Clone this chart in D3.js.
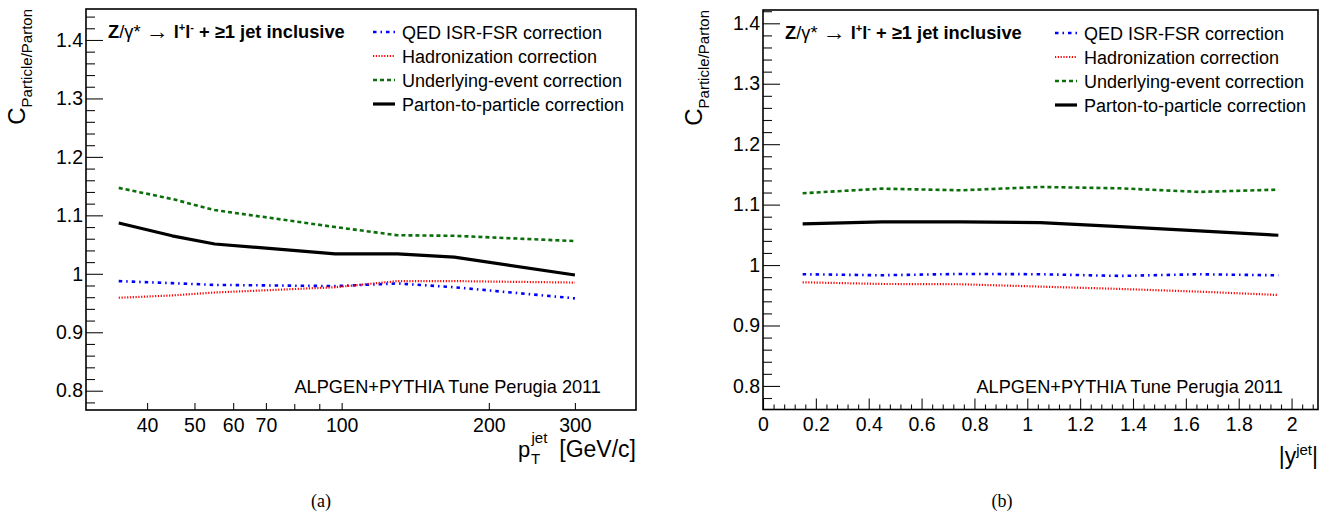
<!DOCTYPE html>
<html><head><meta charset="utf-8">
<script src="https://cdn.jsdelivr.net/npm/d3@7"></script>
<style>
body{margin:0;background:#fff}
svg{display:block}
text{font-family:"Liberation Sans",Arial,Helvetica,sans-serif;fill:#000}
</style>
</head><body>
<svg id="c" width="1322" height="514"></svg>
<script>
// ---------- data ----------
const seriesNames = ["QED ISR-FSR correction", "Hadronization correction", "Underlying-event correction", "Parton-to-particle correction"];

// panel (a): vs jet pT
const ptBins = [35, 45, 55, 97, 130, 170, 300];
const ptQED  = [0.9875, 0.984, 0.981, 0.979, 0.9835, 0.977, 0.958];
const ptHad  = [0.959, 0.963, 0.968, 0.977, 0.9875, 0.9875, 0.985];
const ptUE   = [1.147, 1.128, 1.109, 1.080, 1.066, 1.065, 1.056];
const ptTot  = [1.087, 1.065, 1.051, 1.034, 1.034, 1.0285, 0.998];
const ptTickLabels = [40, 50, 60, 70, 100, 200, 300];
const ptMinorTicks = [80, 90];

// panel (b): vs |y jet|
const yBins = [0.15, 0.45, 0.75, 1.05, 1.35, 1.65, 1.95];
const yQED  = [0.9848, 0.9831, 0.9853, 0.9848, 0.982, 0.9848, 0.983];
const yHad  = [0.9715, 0.9687, 0.9682, 0.9643, 0.9605, 0.956, 0.9505];
const yUE   = [1.1188, 1.1264, 1.1237, 1.1292, 1.127, 1.121, 1.1248];
const yTot  = [1.068, 1.0713, 1.0713, 1.0702, 1.0636, 1.0564, 1.0493];
const rapTickLabels = [0, 0.2, 0.4, 0.6, 0.8, 1, 1.2, 1.4, 1.6, 1.8, 2];

const cTickLabels = [0.8, 0.9, 1, 1.1, 1.2, 1.3, 1.4];

// ---------- styles ----------
const styles = [
  {color:"#0000ff", width:2.6, dash:"3.5,4,1.5,4"},
  {color:"#ff0000", width:2.2, dash:"1.2,1.6"},
  {color:"#0a6e0a", width:2.6, dash:"4,3"},
  {color:"#000000", width:3.2, dash:null}
];

const svg = d3.select("#c");
svg.append("rect").attr("width",1322).attr("height",514).attr("fill","#fff");

const fmt = d => String(+d.toFixed(2));

function range(a, b, s){ const out=[]; for(let v=a; v<=b+1e-9; v+=s) out.push(+v.toFixed(4)); return out; }

function styleAxis(sel){
  sel.selectAll(".domain").remove();
  sel.attr("font-size",null).attr("font-family",null);
  sel.selectAll("text").attr("font-size","19.5px").attr("fill","#000");
  sel.selectAll("line").attr("stroke","#111").attr("stroke-width",1.1);
}

function drawPanel(o){
  const {x0,x1,y0,y1,x,y,bins,series,xMajor,xMinor,yMajorLen,xMajorLen,xMinorLen,letter} = o;
  const g = svg.append("g");

  // y axis
  const yMinor = range(0.78, o.yDomain[1], 0.02).filter(v => v>=o.yDomain[0] && Math.abs(v*10-Math.round(v*10))>1e-6);
  const yaMin = g.append("g").attr("transform",`translate(${x0},0)`)
    .call(d3.axisLeft(y).tickValues(yMinor).tickSizeInner(-9).tickSizeOuter(0).tickFormat(""));
  styleAxis(yaMin);
  const yaMaj = g.append("g").attr("transform",`translate(${x0},0)`)
    .call(d3.axisLeft(y).tickValues(cTickLabels).tickSizeInner(-yMajorLen).tickSizeOuter(0).tickPadding(3).tickFormat(fmt));
  styleAxis(yaMaj);

  // x axis
  const xaMin = g.append("g").attr("transform",`translate(0,${y1})`)
    .call(o.xAxis(x).tickValues(xMinor).tickSizeInner(-xMinorLen).tickSizeOuter(0).tickFormat(""));
  styleAxis(xaMin);
  const xaMaj = g.append("g").attr("transform",`translate(0,${y1})`)
    .call(o.xAxis(x).tickValues(xMajor).tickSizeInner(-xMajorLen).tickSizeOuter(0).tickPadding(8).tickFormat(fmt));
  styleAxis(xaMaj);

  // frame
  g.append("rect").attr("x",x0).attr("y",y0).attr("width",x1-x0).attr("height",y1-y0)
    .attr("fill","none").attr("stroke","#000").attr("stroke-width",1.6);

  // lines
  series.forEach((vals,i) => {
    const st = styles[i];
    const line = d3.line().x((d,j)=>x(bins[j])).y(d=>y(d));
    g.append("path").attr("d", line(vals)).attr("fill","none")
      .attr("stroke",st.color).attr("stroke-width",st.width)
      .attr("stroke-dasharray",st.dash).attr("stroke-linejoin","round");
  });

  // legend
  seriesNames.forEach((name,i) => {
    const st = styles[i];
    const ly = y0 + 23 + i*24;
    g.append("line").attr("x1",x1-263).attr("x2",x1-241).attr("y1",ly).attr("y2",ly)
      .attr("stroke",st.color).attr("stroke-width",st.width).attr("stroke-dasharray",st.dash);
    g.append("text").attr("x",x1-234).attr("y",ly+6.5).attr("font-size","18px").text(name);
  });

  // header
  const h = g.append("text").attr("x",x0+22).attr("y",y0+29).attr("font-size","18.3px").attr("font-weight","bold");
  h.append("tspan").text("Z");
  h.append("tspan").attr("font-weight","normal").text("/γ*");
  h.append("tspan").attr("font-weight","normal").text("  ");
  h.append("tspan").attr("font-weight","normal").attr("font-size","23px").attr("dy",1).text("→");
  h.append("tspan").attr("dy",-1).text(" l");
  h.append("tspan").attr("font-size","11px").attr("dy",-7).text("+");
  h.append("tspan").attr("dy",7).text("l");
  h.append("tspan").attr("font-size","11px").attr("dy",-7).text("-");
  h.append("tspan").attr("dy",7).text(" + ≥1 jet inclusive");

  // generator text
  g.append("text").attr("x",x1-35).attr("y",392.5).attr("text-anchor","end").attr("font-size","18.2px")
    .text("ALPGEN+PYTHIA Tune Perugia 2011");

  // y title
  const yt = g.append("text").attr("transform",`translate(${x0-61},${y0}) rotate(-90)`).attr("text-anchor","end");
  yt.append("tspan").attr("font-size","24px").text("C");
  yt.append("tspan").attr("font-size","15px").attr("dy",7).text("Particle/Parton");

  // panel letter
  g.append("text").attr("x",o.letterX).attr("y",507).attr("text-anchor","middle")
    .attr("font-size","18px")
    .style("font-family","'Liberation Serif','Times New Roman',serif").text(letter);
  return g;
}

// panel (a)
const xa = d3.scaleLog().domain([30,400]).range([86,636]);
const ya = d3.scaleLinear().domain([0.767,1.453]).range([410,9]);
const ga = drawPanel({x0:86,x1:636,y0:9,y1:410,x:xa,y:ya,yDomain:[0.767,1.453],bins:ptBins,
  series:[ptQED,ptHad,ptUE,ptTot], xAxis:d3.axisBottom, xMajor:ptTickLabels, xMinor:ptMinorTicks,
  yMajorLen:17, xMajorLen:7, xMinorLen:6, letter:"(a)", letterX:321});
// x title (a)
ga.append("text").attr("x",518).attr("y",457).attr("font-size","22px").text("p");
ga.append("text").attr("x",531).attr("y",463.5).attr("font-size","15px").text("T");
ga.append("text").attr("x",531.5).attr("y",443).attr("font-size","15px").text("jet");
ga.append("text").attr("x",636).attr("y",457).attr("text-anchor","end").attr("font-size","23px").text("[GeV/c]");

// panel (b)
const xb = d3.scaleLinear().domain([0,2.1]).range([763,1318]);
const yb = d3.scaleLinear().domain([0.761,1.422]).range([409.5,10]);
const rapMinor = range(0, 2.1, 0.04).filter(v => Math.abs(v*5-Math.round(v*5))>1e-6);
const gb = drawPanel({x0:763,x1:1318,y0:10,y1:409.5,x:xb,y:yb,yDomain:[0.761,1.422],bins:yBins,
  series:[yQED,yHad,yUE,yTot], xAxis:d3.axisBottom, xMajor:rapTickLabels, xMinor:rapMinor,
  yMajorLen:17, xMajorLen:11, xMinorLen:5, letter:"(b)", letterX:1002});
// x title (b)
const xt = gb.append("text").attr("x",1318).attr("y",464).attr("text-anchor","end").attr("font-size","23px");
xt.append("tspan").text("|y");
xt.append("tspan").attr("font-size","15px").attr("dy",-9).text("jet");
xt.append("tspan").attr("dy",9).text("|");
</script>
</body></html>
